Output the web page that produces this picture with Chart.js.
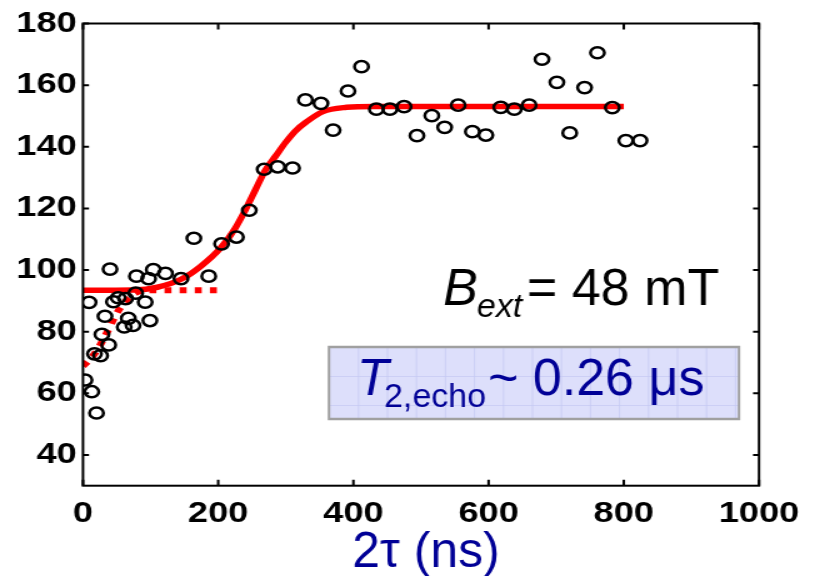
<!DOCTYPE html>
<html><head><meta charset="utf-8">
<script src="https://cdn.jsdelivr.net/npm/chart.js@4.4.1/dist/chart.umd.min.js"></script>
<style>html,body{margin:0;padding:0;background:#fff;overflow:hidden}
#c{display:block;width:825px !important;height:576px !important}</style>
</head><body>
<canvas id="c" width="660" height="576" style="width:825px;height:576px"></canvas>
<script>
// The original figure is stretched horizontally; canvas is drawn at 660 px and displayed at 825 px.
const SX = 825 / 660;

const xTicks = [0, 200, 400, 600, 800, 1000];
const yTicks = [40, 60, 80, 100, 120, 140, 160, 180];

// measured echo amplitude (2tau in ns, amplitude)
const dataX = [3, 13, 20, 9, 17, 26, 28, 32.5, 38, 40, 45, 52, 61, 63, 67, 74, 78, 79, 92, 97, 99, 104, 122, 145, 164, 186, 205, 227, 246,
  268, 288, 310, 329, 352, 370, 392, 412, 434, 454, 475, 494, 516, 535, 555, 576, 596, 618, 638, 660, 679, 701, 720, 742, 761, 783, 803, 824];
const dataY = [64.3, 60.5, 53.6, 89.5, 72.8, 72.2, 79.1, 85, 75.7, 100.3, 89.7, 91, 81.5, 90.7, 84.3, 82, 92.5, 98, 89.6, 97.2, 83.6, 100.1, 98.9, 97.2, 110.3, 98, 108.5, 110.7, 119.4,
  132.7, 133.5, 133.1, 155.2, 154.1, 145.4, 158.1, 166, 152.2, 152.2, 153, 143.6, 150.1, 146.3, 153.5, 144.9, 143.8, 152.8, 152.2, 153.5, 168.4, 160.9, 144.5, 159.2, 170.5, 152.7, 142, 142];

// solid fit curve
const fitX = [0, 75, 110, 145, 173, 203, 225, 240, 255, 270, 285, 300, 315, 330, 355, 390, 430, 800];
const fitY = [93.4, 93.5, 94.4, 97, 101, 107, 113.5, 119.4, 126, 132.5, 137, 141.5, 145.3, 148, 151.4, 152.8, 153.1, 153.1];

// dotted initial rise and baseline
const initX = [0, 15, 28, 38, 48, 58, 68, 80, 95, 200];
const initY = [68.8, 72.2, 76.6, 80.8, 85.2, 88.6, 91, 92.8, 93.4, 93.4];

const FONT = "'Liberation Sans', Arial, Helvetica, sans-serif";
const pts = (xs, ys) => xs.map((x, i) => ({x: x, y: ys[i]}));

const framePlugin = {
  id: 'frame',
  afterDraw(chart) {
    const c = chart.ctx, a = chart.chartArea;
    const xs = chart.scales.x, ys = chart.scales.y;
    c.save();
    c.strokeStyle = '#000';
    c.lineWidth = 2;
    c.strokeRect(a.left, a.top, a.right - a.left, a.bottom - a.top);
    c.beginPath();
    const tlx = 6 / SX, tly = 6;
    xTicks.forEach(v => {
      const p = xs.getPixelForValue(v);
      c.moveTo(p, a.bottom); c.lineTo(p, a.bottom - tly);
      c.moveTo(p, a.top); c.lineTo(p, a.top + tly);
    });
    yTicks.forEach(v => {
      const p = ys.getPixelForValue(v);
      c.moveTo(a.left, p); c.lineTo(a.left + tlx, p);
      c.moveTo(a.right, p); c.lineTo(a.right - tlx, p);
    });
    c.stroke();
    c.restore();
  }
};

const overlayPlugin = {
  id: 'overlay',
  afterDraw(chart) {
    const c = chart.ctx;
    c.save();
    c.scale(1 / SX, 1);
    // B_ext label
    c.fillStyle = '#000';
    c.textBaseline = 'alphabetic';
    c.textAlign = 'left';
    c.font = 'italic 52px ' + FONT;
    c.fillText('B', 443, 305);
    c.font = 'italic 34px ' + FONT;
    c.fillText('ext', 477, 317);
    c.font = '52px ' + FONT;
    c.fillText('= 48 mT', 527, 305);

    // T2 box
    const bx = 329, by = 347, bw = 410, bh = 72;
    c.fillStyle = 'rgb(221,223,251)';
    c.fillRect(bx, by, bw, bh);
    c.strokeStyle = 'rgba(196,200,242,0.8)';
    c.lineWidth = 1;
    c.beginPath();
    for (let gx = bx + 29; gx < bx + bw; gx += 29) { c.moveTo(gx + 0.5, by); c.lineTo(gx + 0.5, by + bh); }
    for (let gy = by + 29; gy < by + bh; gy += 29) { c.moveTo(bx, gy + 0.5); c.lineTo(bx + bw, gy + 0.5); }
    c.stroke();
    c.strokeStyle = '#a0a0a0';
    c.lineWidth = 2.5;
    c.strokeRect(bx, by, bw, bh);

    c.fillStyle = '#000096';
    c.font = 'italic 52px ' + FONT;
    c.fillText('T', 357, 395);
    c.font = '34px ' + FONT;
    c.fillText('2,echo', 384, 407);
    c.font = '52px ' + FONT;
    c.fillText('~ 0.26 \u03bcs', 488, 395);

    // x axis title
    c.textAlign = 'center';
    c.font = '50px ' + FONT;
    c.fillText('2\u03c4 (ns)', 426, 567);
    c.restore();
  }
};

new Chart(document.getElementById('c'), {
  type: 'scatter',
  data: {
    datasets: [
      {label: 'data', data: pts(dataX, dataY), showLine: false, pointStyle: 'circle', pointRadius: 5.6, pointBorderWidth: 2.5,
       pointBorderColor: '#000', pointBackgroundColor: 'rgba(0,0,0,0)', borderColor: '#000', backgroundColor: 'rgba(0,0,0,0)', clip: 0},
      {label: 'fit', data: pts(fitX, fitY), showLine: true, borderColor: '#ff0000', borderWidth: 5.5, pointRadius: 0,
       cubicInterpolationMode: 'monotone', fill: false, clip: 0},
      {label: 'init', data: pts(initX, initY), showLine: true, borderColor: '#ff0000', borderWidth: 6, borderDash: [5.6, 6.5],
       borderCapStyle: 'butt', pointRadius: 0, cubicInterpolationMode: 'monotone', fill: false, clip: 0}
    ]
  },
  options: {
    responsive: false, animation: false, devicePixelRatio: 1,
    layout: {padding: {left: 0, top: 23.5, right: 52.8, bottom: 0}},
    plugins: {legend: {display: false}, tooltip: {enabled: false}},
    scales: {
      x: {type: 'linear', min: 0, max: 1000,
          afterBuildTicks: s => { s.ticks = xTicks.map(v => ({value: v})); },
          afterFit: s => { s.height = 90.3; },
          grid: {display: false, drawTicks: false}, border: {display: false},
          ticks: {font: {family: FONT, size: 29, weight: 'bold'}, color: '#000', padding: 11, maxRotation: 0, autoSkip: false,
                  callback: v => String(v)}},
      y: {type: 'linear', min: 30, max: 180,
          afterBuildTicks: s => { s.ticks = yTicks.map(v => ({value: v})); },
          afterFit: s => { s.width = 66.4; },
          grid: {display: false, drawTicks: false}, border: {display: false},
          ticks: {font: {family: FONT, size: 29, weight: 'bold'}, color: '#000', padding: 5, autoSkip: false,
                  callback: v => String(v)}}
    }
  },
  plugins: [framePlugin, overlayPlugin]
});
</script>
</body></html>
